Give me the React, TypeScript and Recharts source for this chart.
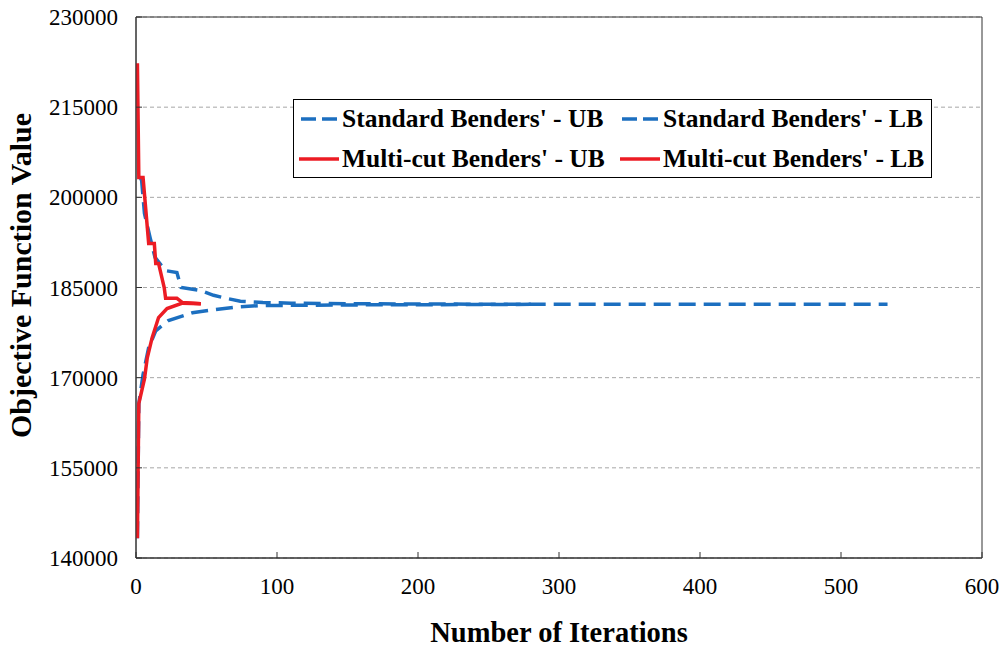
import { LineChart, Line, XAxis, YAxis, CartesianGrid, Legend, ReferenceArea } from 'recharts';

const xTicks = [0, 100, 200, 300, 400, 500, 600];
const yTicks = [140000, 155000, 170000, 185000, 200000, 215000, 230000];

// Standard Benders' upper / lower bound (iteration, objective value)
const stdUbIter = [3, 4, 6, 10, 13.5, 21, 29, 32, 46, 55, 62, 74, 90, 110, 150, 280, 533];
const stdUbValue = [203300, 202800, 197300, 193300, 190000, 187800, 187500, 185000, 184500, 183700, 183300, 182700, 182500, 182400, 182300, 182200, 182200];

const stdLbIter = [1, 2, 5, 9, 14, 23, 40, 55, 69, 88, 150, 280];
const stdLbValue = [143300, 165700, 170500, 175000, 177800, 179500, 180800, 181300, 181700, 182000, 182100, 182200];

// Multi-cut Benders' upper / lower bound
const mcUbIter = [1, 2, 5, 9, 13, 14, 16, 20, 21, 29, 33, 46];
const mcUbValue = [222300, 203300, 203300, 192300, 192300, 189000, 189000, 185000, 183200, 183200, 182500, 182300];

const mcLbIter = [1, 2, 6, 8, 11.5, 16, 22, 33, 46];
const mcLbValue = [143300, 165700, 169800, 173300, 176700, 180000, 181500, 182400, 182300];

const BLUE = '#1c6fc0';
const RED = '#ec1c24';
const FONT = '"Liberation Serif", "Times New Roman", serif';

const toPoints = (iters: number[], values: number[]) =>
  iters.map((iter, i) => ({ iter, value: values[i] }));

const series = [
  { name: "Standard Benders' - UB", data: toPoints(stdUbIter, stdUbValue), color: BLUE, dashed: true },
  { name: "Standard Benders' - LB", data: toPoints(stdLbIter, stdLbValue), color: BLUE, dashed: true },
  { name: "Multi-cut Benders' - UB", data: toPoints(mcUbIter, mcUbValue), color: RED, dashed: false },
  { name: "Multi-cut Benders' - LB", data: toPoints(mcLbIter, mcLbValue), color: RED, dashed: false },
];

// legend item placement inside the box
const colLeft = [5, 326];
const rowTop = [0, 40];

function LegendBox() {
  return (
    <div style={{
      position: 'relative',
      border: '1px solid #000',
      background: '#fff',
      width: 639,
      height: 79,
      boxSizing: 'border-box',
      fontFamily: FONT,
      fontWeight: 'bold',
      fontSize: 25.5,
      color: '#000',
    }}>
      {series.map((s, i) => (
        <div key={s.name} style={{
          position: 'absolute',
          left: colLeft[i % 2],
          top: rowTop[Math.floor(i / 2)],
          height: 38,
          display: 'flex',
          alignItems: 'center',
          whiteSpace: 'nowrap',
        }}>
          <svg width={40} height={10} style={{ marginRight: 3 }}>
            <line x1={s.dashed ? 2 : 0} y1={5} x2={s.dashed ? 38 : 40} y2={5} stroke={s.color} strokeWidth={3.5}
              strokeDasharray={s.dashed ? '15 6' : undefined} />
          </svg>
          <span>{s.name}</span>
        </div>
      ))}
    </div>
  );
}

export default function App() {
  return (
    <div style={{ position: 'absolute', left: 0, top: 0, width: 1000, height: 648, background: '#fff' }}>
      <LineChart width={1000} height={648} margin={{ top: 17, right: 18, left: 0, bottom: 0 }}>
        <CartesianGrid horizontal vertical={false} stroke="#a6a6a6" strokeDasharray="4 3" />
        <XAxis
          dataKey="iter"
          type="number"
          domain={[0, 600]}
          ticks={xTicks}
          allowDataOverflow
          height={90}
          tickSize={-6}
          tickMargin={26}
          stroke="#333"
          tick={{ fill: '#000', fontFamily: FONT, fontSize: 23 }}
          label={{ value: 'Number of Iterations', position: 'insideBottom', offset: 6, fill: '#000', fontFamily: FONT, fontWeight: 'bold', fontSize: 28.5 }}
        />
        <YAxis
          type="number"
          domain={[140000, 230000]}
          ticks={yTicks}
          allowDataOverflow
          width={136}
          tickSize={-6}
          tickMargin={24}
          stroke="#333"
          tick={{ fill: '#000', fontFamily: FONT, fontSize: 23 }}
          label={{ value: 'Objective Function Value', angle: -90, position: 'insideLeft', offset: 20, dy: -12, style: { textAnchor: 'middle' }, fill: '#000', fontFamily: FONT, fontWeight: 'bold', fontSize: 30 }}
        />
        <ReferenceArea x1={0} x2={600} y1={140000} y2={230000} fill="none" stroke="#333" strokeWidth={1} />
        <Legend
          layout="horizontal"
          verticalAlign="middle"
          align="center"
          content={() => <LegendBox />}
          wrapperStyle={{ left: 293, top: 99, width: 639 }}
        />
        {series.map((s) => (
          <Line
            key={s.name}
            data={s.data}
            dataKey="value"
            name={s.name}
            type="linear"
            stroke={s.color}
            strokeWidth={3.5}
            strokeDasharray={s.dashed ? '17 8' : undefined}
            dot={false}
            activeDot={false}
            isAnimationActive={false}
          />
        ))}
      </LineChart>
    </div>
  );
}
